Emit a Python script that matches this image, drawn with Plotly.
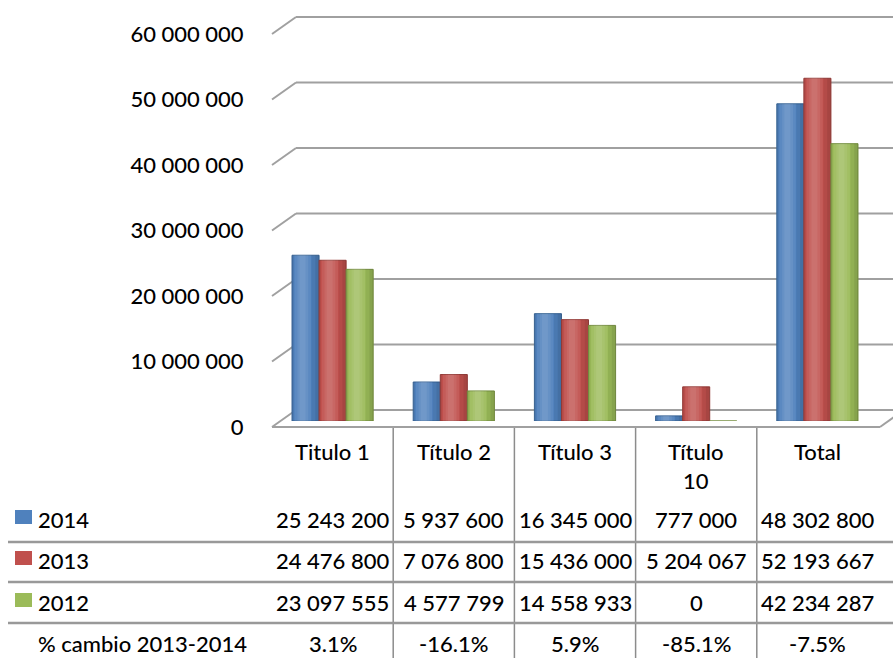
import plotly.graph_objects as go

# ---------------- data ----------------
categories = ["Titulo 1", "Título 2", "Título 3", "Título 10", "Total"]
header_labels = ["Titulo 1", "Título 2", "Título 3", "Título<br>10", "Total"]
series_names = ["2014", "2013", "2012"]
values_2014 = [25243200, 5937600, 16345000, 777000, 48302800]
values_2013 = [24476800, 7076800, 15436000, 5204067, 52193667]
values_2012 = [23097555, 4577799, 14558933, 0, 42234287]
pct_label = "% cambio 2013-2014"
pct_change = ["3.1%", "-16.1%", "5.9%", "-85.1%", "-7.5%"]
y_ticks = [0, 10000000, 20000000, 30000000, 40000000, 50000000, 60000000]

colors = ["#4F81BD", "#C0504D", "#9BBB59"]
edge_colors = ["#3A6595", "#963D3A", "#779043"]

W, H = 893, 658
FONT = "Lato, 'Open Sans', 'Liberation Sans', sans-serif"
FS = 22
FW = 500
GRID = "#a0a0a0"
YMAX = 60000000


def px(x):
    return x / W


def py(y):
    return 1 - y / H


def fmt(v):
    return f"{v:,}".replace(",", " ")


fig = go.Figure()

# back wall subplot (x / y) - reference for gridlines
fig.add_trace(go.Scatter(x=[0, 1], y=[0, YMAX], mode="markers",
                         marker=dict(opacity=0), hoverinfo="skip",
                         showlegend=False, xaxis="x", yaxis="y"))

# bars subplot (x2 / y2) - cylinders imitated by a base bar + soft shading strips
group_w = 0.67
bar_w = group_w / 3
# (start fraction, width fraction, rgba) of shading strips across one bar
shading = [
    (0.10, 0.60, "rgba(255,255,255,0.07)"),
    (0.20, 0.40, "rgba(255,255,255,0.07)"),
    (0.28, 0.22, "rgba(255,255,255,0.07)"),
    (0.00, 0.07, "rgba(0,0,0,0.07)"),
    (0.72, 0.28, "rgba(0,0,0,0.06)"),
    (0.86, 0.14, "rgba(0,0,0,0.07)"),
]
for i, (name, vals, c, ec) in enumerate(zip(series_names,
                                            [values_2014, values_2013, values_2012],
                                            colors, edge_colors)):
    off = -group_w / 2 + i * bar_w
    fig.add_trace(go.Bar(x=categories, y=vals, name=name,
                         offset=off, width=bar_w,
                         marker=dict(color=c, line=dict(color=ec, width=1)),
                         xaxis="x2", yaxis="y2", showlegend=False))
    for s0, sw, sc in shading:
        fig.add_trace(go.Bar(x=categories, y=vals, name=name, hoverinfo="skip",
                             offset=off + s0 * bar_w, width=sw * bar_w,
                             marker=dict(color=sc, line=dict(width=0)),
                             xaxis="x2", yaxis="y2", showlegend=False))

# front tick-label axis (x3 / y3)
fig.add_trace(go.Scatter(x=[0, 1], y=[0, YMAX], mode="markers",
                         marker=dict(opacity=0), hoverinfo="skip",
                         showlegend=False, xaxis="x3", yaxis="y3"))

shapes = []
# back-wall gridlines and perspective diagonals (front -> back)
for v in y_ticks:
    shapes.append(dict(type="line", xref="paper", yref="y",
                       x0=px(296), x1=1.0, y0=v, y1=v,
                       line=dict(color=GRID, width=2), layer="below"))
    shapes.append(dict(type="line", xref="paper", yref="y", ysizemode="pixel",
                       yanchor=v, x0=px(272), x1=px(296), y0=-17, y1=0,
                       line=dict(color=GRID, width=2), layer="below"))
# floor front edge and right diagonal
shapes.append(dict(type="line", xref="paper", yref="y", ysizemode="pixel",
                   yanchor=0, x0=px(272), x1=px(880), y0=-17, y1=-17,
                   line=dict(color=GRID, width=2), layer="below"))
shapes.append(dict(type="line", xref="paper", yref="y", ysizemode="pixel",
                   yanchor=0, x0=px(880), x1=px(904), y0=-17, y1=0,
                   line=dict(color=GRID, width=2), layer="below"))

# table vertical separators at category boundaries
for i in range(len(categories) - 1):
    shapes.append(dict(type="line", xref="x2", yref="paper",
                       x0=i + 0.5, x1=i + 0.5, y0=0, y1=py(428),
                       line=dict(color="#8c8c8c", width=1.5)))

# table horizontal rules
for yy in [542, 582, 623]:
    shapes.append(dict(type="line", xref="paper", yref="paper",
                       x0=px(8), x1=1, y0=py(yy), y1=py(yy),
                       line=dict(color="#999999", width=2.5)))

row_y = [519, 560, 602, 643]
# legend keys
for c, ry in zip(colors, row_y[:3]):
    shapes.append(dict(type="rect", xref="paper", yref="paper",
                       x0=px(15), x1=px(32), y0=py(ry + 5), y1=py(ry - 9),
                       fillcolor=c, line=dict(width=0)))

tfont = dict(size=FS, color="black", weight=FW)
annotations = []
# header
for cat, lab in zip(categories, header_labels):
    annotations.append(dict(x=cat, y=py(436), xref="x2", yref="paper",
                            text=lab, showarrow=False, xanchor="center",
                            yanchor="top", font=tfont))
# row labels
for lab, ry in zip(series_names + [pct_label], row_y):
    annotations.append(dict(x=px(36), y=py(ry), xref="paper", yref="paper",
                            text=lab, showarrow=False, xanchor="left",
                            yanchor="middle", font=tfont))
# table cells
rows = [[fmt(v) for v in values_2014], [fmt(v) for v in values_2013],
        [fmt(v) for v in values_2012], pct_change]
for cells, ry in zip(rows, row_y):
    for cat, t in zip(categories, cells):
        annotations.append(dict(x=cat, y=py(ry), xref="x2", yref="paper",
                                text=t, showarrow=False, xanchor="center",
                                yanchor="middle", font=tfont))

# wall axis: 0 at y=410 px, 60M at y=17 px; domain padded so floor lines are not clipped
k = (410 - 17) / YMAX
wall_range = [-(434 - 410) / k, YMAX + (17 - 10) / k]

fig.update_layout(
    width=W, height=H, autosize=False,
    margin=dict(l=0, r=0, t=0, b=0, pad=0),
    paper_bgcolor="white", plot_bgcolor="rgba(0,0,0,0)",
    font=dict(family=FONT, size=FS, color="black"),
    separators=". ",
    barmode="overlay",
    showlegend=False,
    xaxis=dict(domain=[px(296), 1], range=[0, 1], visible=False,
               automargin=False),
    yaxis=dict(domain=[py(434), py(10)], range=wall_range, visible=False,
               showgrid=False, automargin=False),
    xaxis2=dict(domain=[px(272), px(878)], range=[-0.5, 4.5], type="category",
                visible=False, anchor="y2", automargin=False),
    yaxis2=dict(domain=[py(421), py(27)], range=[0, YMAX], visible=False,
                anchor="x2", automargin=False),
    xaxis3=dict(domain=[0, px(272)], range=[0, 1], visible=False, anchor="y3",
                automargin=False),
    yaxis3=dict(domain=[py(427), py(34)], range=[0, YMAX],
                tickvals=y_ticks, tickformat=",d", anchor="free",
                position=px(272), showgrid=False, zeroline=False,
                showline=False, ticks="outside", ticklen=24,
                tickcolor="rgba(0,0,0,0)", automargin=False,
                tickfont=tfont),
    shapes=shapes, annotations=annotations,
)

fig.write_html("out.html", config={"displayModeBar": False},
               post_script="document.body.style.margin='0';"
                           "document.body.style.overflow='hidden';")
